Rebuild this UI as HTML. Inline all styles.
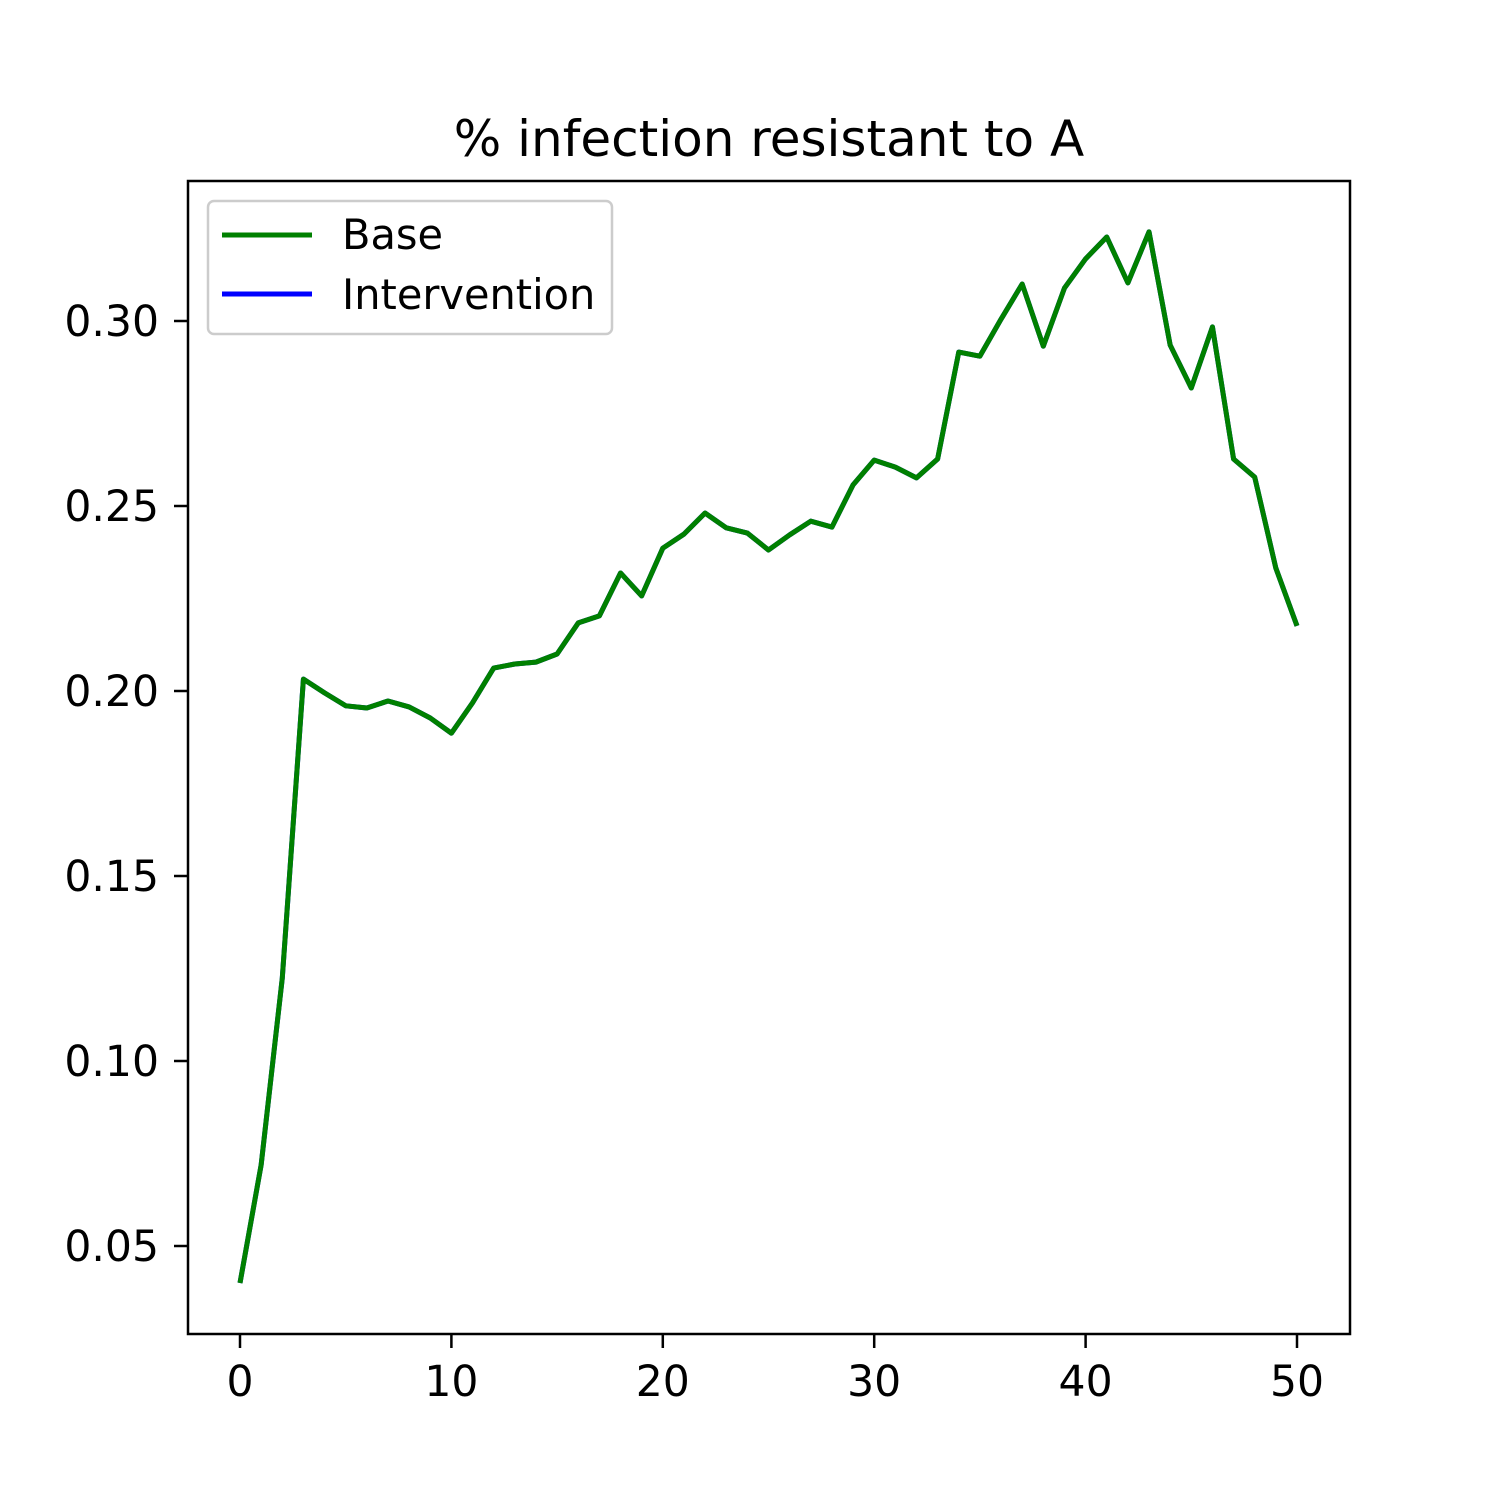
<!DOCTYPE html>
<html><head><meta charset="utf-8"><style>
body{margin:0;background:#fff}
text{font-family:"DejaVu Sans","Liberation Sans",sans-serif;fill:#000}
</style></head><body>
<svg id="chart" width="1500" height="1500" viewBox="0 0 1500 1500" xmlns="http://www.w3.org/2000/svg">
<rect width="1500" height="1500" fill="#fff"/>
<text x="769" y="156" font-size="50" text-anchor="middle">% infection resistant to A</text>
<g id="ticks"></g>
<polyline id="line-intervention" fill="none" stroke="#0000ff" stroke-width="5" stroke-linejoin="round"/>
<polyline id="line-base" fill="none" stroke="#008000" stroke-width="5" stroke-linejoin="round"/>
<rect x="188" y="181" width="1162" height="1153" fill="none" stroke="#000" stroke-width="2.5"/>
<g>
<rect x="208" y="201" width="404" height="133" rx="6" fill="#fff" fill-opacity="0.8" stroke="#ccc" stroke-width="2.5"/>
<line x1="222" y1="235" x2="312" y2="235" stroke="#008000" stroke-width="5"/>
<text x="342" y="249" font-size="41.5">Base</text>
<line x1="222" y1="294" x2="312" y2="294" stroke="#0000ff" stroke-width="5"/>
<text x="342" y="309" font-size="41.5">Intervention</text>
</g>
</svg>
<script>
const xs = [0,1,2,3,4,5,6,7,8,9,10,11,12,13,14,15,16,17,18,19,20,21,22,23,24,25,26,27,28,29,30,31,32,33,34,35,36,37,38,39,40,41,42,43,44,45,46,47,48,49,50];
const baseVals = [0.040,0.0719,0.1224,0.2032,0.1995,0.196,0.1954,0.1973,0.1957,0.1927,0.1886,0.1968,0.2062,0.2073,0.2078,0.2100,0.2184,0.2203,0.2319,0.2257,0.2386,0.2424,0.2481,0.2441,0.2427,0.2381,0.2422,0.2459,0.2443,0.2557,0.2624,0.2605,0.2576,0.2627,0.2916,0.2905,0.3005,0.3100,0.2932,0.3089,0.3168,0.3227,0.3103,0.3241,0.2935,0.2819,0.2984,0.2627,0.2578,0.2332,0.2176];
const interventionVals = baseVals.slice();
const xTicks = [0,10,20,30,40,50];
const yTicks = [0.05,0.10,0.15,0.20,0.25,0.30];
const yTickLabels = ["0.05","0.10","0.15","0.20","0.25","0.30"];

function sx(v){return 240 + v*(1297-240)/50;}
function sy(v){return 321 + (0.30-v)*3700;}
const NS="http://www.w3.org/2000/svg";
document.getElementById('line-base').setAttribute('points', xs.map((x,i)=>sx(x)+','+sy(baseVals[i])).join(' '));
document.getElementById('line-intervention').setAttribute('points', xs.map((x,i)=>sx(x)+','+sy(interventionVals[i])).join(' '));
const g=document.getElementById('ticks');
xTicks.forEach(t=>{
  const l=document.createElementNS(NS,'line');
  
  
  l.setAttribute('x1',sx(t));l.setAttribute('x2',sx(t));l.setAttribute('y1',1334);l.setAttribute('y2',1348);
  l.setAttribute('stroke','#000');l.setAttribute('stroke-width','2.5');g.appendChild(l);
  const tx=document.createElementNS(NS,'text');
  
  
  tx.setAttribute('x',sx(t));tx.setAttribute('y',1396);tx.setAttribute('font-size','42.5');tx.setAttribute('text-anchor','middle');
  tx.textContent=t;g.appendChild(tx);
});
yTicks.forEach((t,i)=>{
  const l=document.createElementNS(NS,'line');
  
  
  l.setAttribute('x1',174);l.setAttribute('x2',188);l.setAttribute('y1',sy(t));l.setAttribute('y2',sy(t));
  l.setAttribute('stroke','#000');l.setAttribute('stroke-width','2.5');g.appendChild(l);
  const tx=document.createElementNS(NS,'text');
  
  
  tx.setAttribute('x',159);tx.setAttribute('y',sy(t)+15);tx.setAttribute('font-size','42.5');tx.setAttribute('text-anchor','end');
  tx.textContent=yTickLabels[i];g.appendChild(tx);
});
</script>
</body></html>
